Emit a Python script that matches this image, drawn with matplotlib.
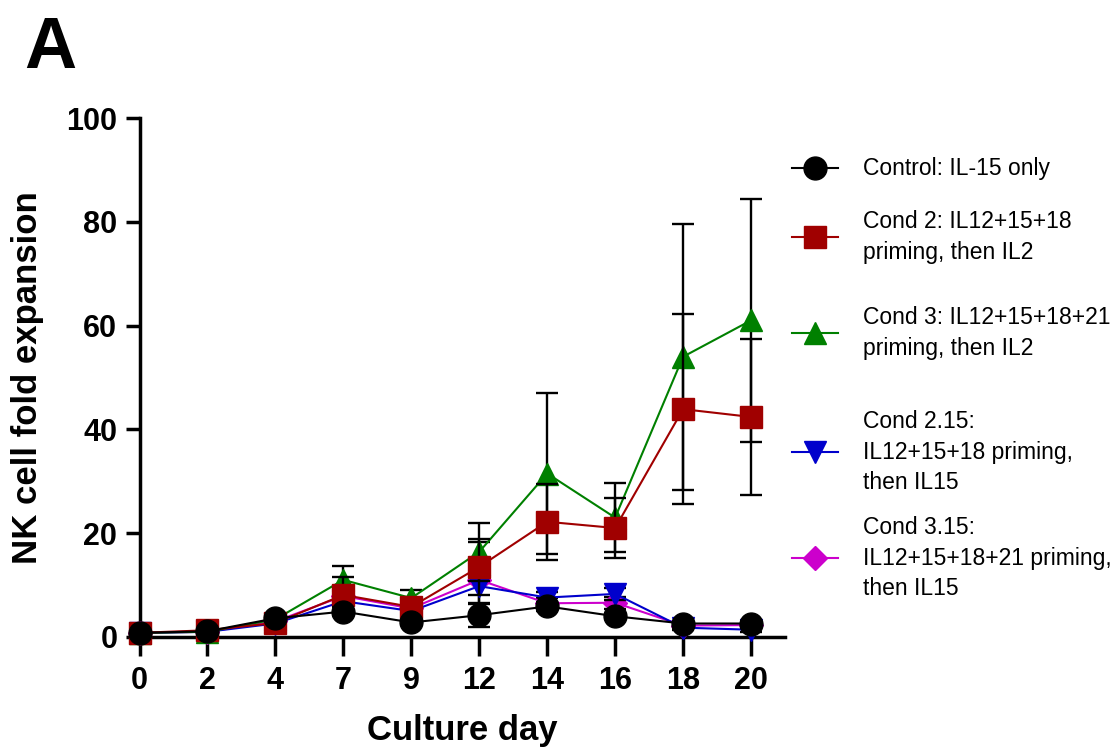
import numpy as np
import matplotlib
matplotlib.use('Agg')
import matplotlib.pyplot as plt
from matplotlib.lines import Line2D

plt.rcParams.update({'font.family': ['Liberation Sans', 'DejaVu Sans']})

days = ['0', '2', '4', '7', '9', '12', '14', '16', '18', '20']

ctrl_mean = [0.8, 1.1, 3.6, 4.9, 2.8, 4.2, 5.9, 4.0, 2.6, 2.6]
ctrl_sd   = [0.1, 0.2, 0.5, 0.8, 0.5, 2.2, 0.8, 0.6, 0.4, 0.4]
c2_mean   = [0.8, 1.3, 2.7, 8.1, 5.8, 13.5, 22.2, 21.0, 43.9, 42.4]
c2_sd     = [0.1, 0.3, 0.6, 3.5, 1.5, 5.4, 7.3, 5.7, 18.3, 15.0]
c3_mean   = [0.8, 1.0, 3.4, 11.0, 7.5, 16.4, 31.5, 23.0, 54.0, 61.0]
c3_sd     = [0.1, 0.2, 0.6, 2.7, 1.5, 5.6, 15.5, 6.7, 25.6, 23.4]
c215_mean = [0.8, 1.0, 2.6, 6.9, 5.0, 9.8, 7.6, 8.3, 1.8, 1.4]
c215_sd   = [0.1, 0.2, 0.5, 1.2, 1.0, 3.2, 1.0, 1.2, 0.5, 0.4]
c315_mean = [0.8, 1.0, 3.0, 7.9, 5.5, 11.0, 6.5, 6.6, 2.2, 2.3]
c315_sd   = [0.1, 0.2, 0.5, 1.2, 1.0, 7.3, 1.0, 1.2, 0.5, 0.4]

labels = ['Control: IL-15 only',
          'Cond 2: IL12+15+18\npriming, then IL2',
          'Cond 3: IL12+15+18+21\npriming, then IL2',
          'Cond 2.15:\nIL12+15+18 priming,\nthen IL15',
          'Cond 3.15:\nIL12+15+18+21 priming,\nthen IL15']

# (mean, sd, colour, marker, size, legend row); listed bottom -> top in z
series = [
    (c315_mean, c315_sd, '#CC00CC', 'D', 12, 4),
    (c215_mean, c215_sd, '#0000CC', 'v', 16.5, 3),
    (c3_mean,   c3_sd,   '#008000', '^', 16.5, 2),
    (c2_mean,   c2_sd,   '#A00000', 's', 15.5, 1),
    (ctrl_mean, ctrl_sd, '#000000', 'o', 16.5, 0),
]

W, H = 1117, 748
fig = plt.figure(figsize=(W / 100, H / 100), dpi=100)
ax = fig.add_axes([139.5 / W, 1 - 637 / H, 645.5 / W, 519 / H])

x = np.arange(len(days))
for k, (m, sd, col, mk, ms, row) in enumerate(series):
    z = 3 + 2 * k
    ax.errorbar(x, m, yerr=sd, fmt='none', ecolor='black', elinewidth=1.7,
                capsize=8, capthick=1.7, zorder=z, clip_on=False)
    ax.plot(x, m, color=col, lw=1.5, marker=mk, ms=ms, mec=col, mfc=col,
            zorder=z + 1, clip_on=False)

ax.set_xlim(0, 9.5)
ax.set_ylim(0, 100)
ax.set_xticks(x)
ax.set_xticklabels(days)
ax.set_yticks(np.arange(0, 101, 20))
for s in ['top', 'right']:
    ax.spines[s].set_visible(False)
for s in ['left', 'bottom']:
    ax.spines[s].set_linewidth(2.5)
ax.tick_params(axis='x', length=14, width=2.5, pad=7, labelsize=22)
ax.tick_params(axis='y', length=10, width=2.5, pad=6, labelsize=22)
for t in ax.get_xticklabels() + ax.get_yticklabels():
    t.set_fontweight('bold')

fig.text(462 / W, 1 - 740 / H, 'Culture day', ha='center', va='baseline',
         fontsize=25, fontweight='bold')
fig.text(28 / W, 1 - 377.5 / H, 'NK cell fold expansion', ha='center',
         va='center', rotation=90, fontsize=25, fontweight='bold')
fig.text(24 / W, 1 - 68 / H, 'A', ha='left', va='baseline', fontsize=52,
         fontweight='bold')

# hand-built legend, one row per series
legend_y = [168, 237, 333, 452, 558]
for m, sd, col, mk, ms, row in sorted(series, key=lambda s: s[5]):
    yy = 1 - legend_y[row] / H
    fig.add_artist(Line2D([792 / W, 838 / W], [yy, yy], color=col, lw=1.5,
                          transform=fig.transFigure))
    fig.add_artist(Line2D([815 / W], [yy], color=col, marker=mk, ms=ms,
                          mec=col, mfc=col, transform=fig.transFigure))
    fig.text(863 / W, yy, labels[row], ha='left', va='center', fontsize=16.5,
             linespacing=1.42)

fig.savefig('out.png', dpi=100)
